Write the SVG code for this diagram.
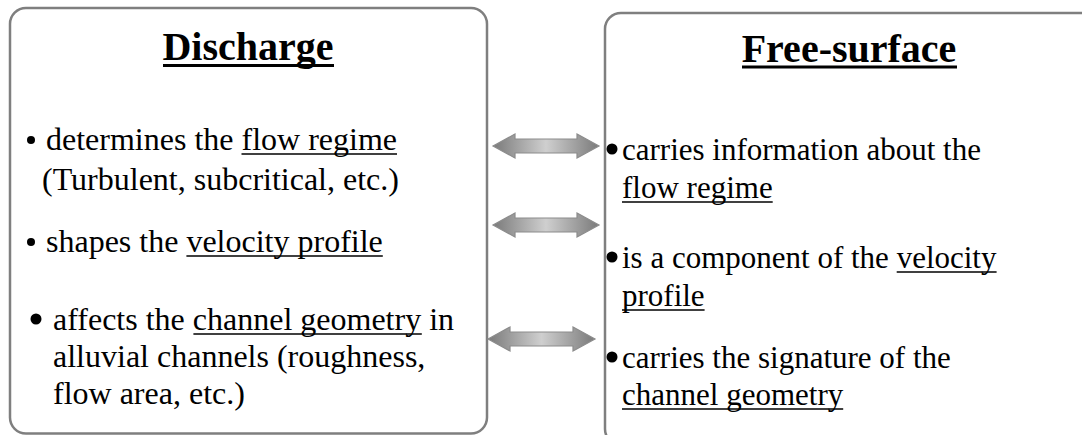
<svg xmlns="http://www.w3.org/2000/svg" width="1082" height="435" viewBox="0 0 1082 435">
  <defs>
    <linearGradient id="ag" x1="0" y1="0" x2="1" y2="0">
      <stop offset="0" stop-color="#7a7a7a"/>
      <stop offset="0.5" stop-color="#cfcfcf"/>
      <stop offset="1" stop-color="#7a7a7a"/>
    </linearGradient>
    <style>
      .box { fill: #ffffff; stroke: #7f7f7f; stroke-width: 2.5; }
      .title { font-family: "Liberation Serif", "Times New Roman", serif; font-weight: bold; font-size: 40px; fill: #000; }
      .t { font-family: "Liberation Serif", "Times New Roman", serif; font-size: 32px; fill: #000; }
      .r { font-size: 31px; }
      .ul { stroke: #000; stroke-width: 3; }
      .u { stroke: #000; stroke-width: 1.6; }
      .arr { fill: url(#ag); stroke: #8c8c8c; stroke-width: 1.2; }
    </style>
  </defs>
  <rect width="1082" height="435" fill="#ffffff"/>

  <g id="discharge">
    <rect class="box" x="10" y="8" width="477" height="425.5" rx="16"/>
    <text class="title" x="248" y="60" text-anchor="middle">Discharge</text>
    <line class="ul" x1="163" y1="65.5" x2="334" y2="65.5"/>
    <circle cx="31" cy="140" r="4"/>
    <text class="t" x="46" y="150">determines the flow regime</text>
    <line class="u" x1="241.5" y1="154" x2="397" y2="154"/>
    <text class="t" x="42" y="190">(Turbulent, subcritical, etc.)</text>
    <circle cx="31" cy="242" r="4"/>
    <text class="t" x="46" y="252">shapes the velocity profile</text>
    <line class="u" x1="186.4" y1="256" x2="382.8" y2="256"/>
    <circle cx="36" cy="319" r="5.5"/>
    <text class="t" x="53" y="330">affects the channel geometry in</text>
    <line class="u" x1="193.4" y1="334" x2="421.8" y2="334"/>
    <text class="t" x="53" y="367">alluvial channels (roughness,</text>
    <text class="t" x="53" y="404">flow area, etc.)</text>
  </g>

  <g id="free-surface">
    <rect class="box" x="605" y="13" width="500" height="432" rx="16"/>
    <text class="title" x="849" y="62" text-anchor="middle">Free-surface</text>
    <line class="ul" x1="742" y1="67" x2="957" y2="67"/>
    <circle cx="612" cy="149" r="5.5"/>
    <text class="t r" x="622" y="160">carries information about the</text>
    <text class="t r" x="622" y="198">flow regime</text>
    <line class="u" x1="622" y1="202" x2="772.7" y2="202"/>
    <circle cx="612" cy="257" r="5.5"/>
    <text class="t r" x="622" y="268">is a component of the velocity</text>
    <line class="u" x1="896.7" y1="272" x2="996.6" y2="272"/>
    <text class="t r" x="622" y="306">profile</text>
    <line class="u" x1="622" y1="310" x2="704.6" y2="310"/>
    <circle cx="612" cy="357" r="5.5"/>
    <text class="t r" x="622" y="368">carries the signature of the</text>
    <text class="t r" x="622" y="405">channel geometry</text>
    <line class="u" x1="622" y1="409" x2="843.2" y2="409"/>
  </g>

  <g id="connectors">
    <polygon class="arr" points="493,146 515,134 515,139 577,139 577,134 599,146 577,158 577,153 515,153 515,158"/>
    <polygon class="arr" points="493,225 515,213 515,218 577,218 577,213 599,225 577,237 577,232 515,232 515,237"/>
    <polygon class="arr" points="488,339 510,327 510,332 573,332 573,327 595,339 573,351 573,346 510,346 510,351"/>
  </g>
</svg>
